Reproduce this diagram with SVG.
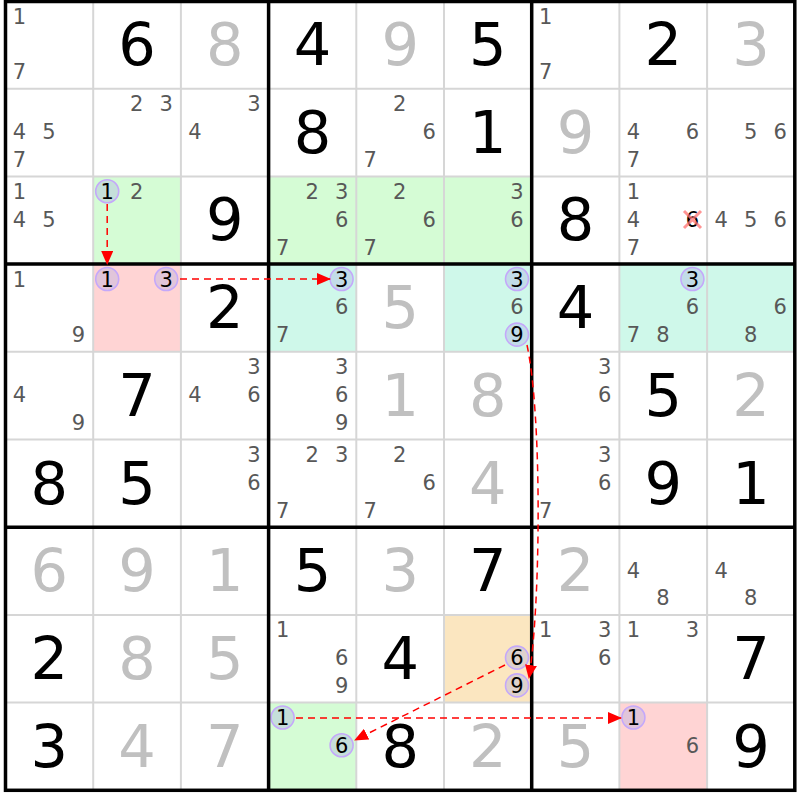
<svg xmlns="http://www.w3.org/2000/svg" width="800" height="800" viewBox="0 0 800 800">
<defs>
<style>
text{font-family:"DejaVu Sans","Noto Sans",sans-serif;text-anchor:middle}
.g{font-size:59px;fill:#000}
.s{font-size:59px;fill:#c0c0c0}
.c{font-size:21px;fill:#585858}
.k{font-size:21px;fill:#000}
.hc{fill:rgba(170,170,230,0.35);stroke:#c4a8fa;stroke-width:1.6}
.gr{fill:#d5fcd5}.rd{fill:#ffd4d4}.tl{fill:#cff8ea}.or{fill:#fbe6c0}
.thin{stroke:#d6d6d6;stroke-width:2}
.thick{stroke:#000;stroke-width:3.5}
.arr{fill:none;stroke:#f00;stroke-width:1.5;stroke-dasharray:7,5}
</style>
<marker id="ah" markerUnits="userSpaceOnUse" markerWidth="14" markerHeight="12" refX="13" refY="6" orient="auto"><path d="M0,0 L14,6 L0,12 z" fill="#f00"/></marker>
</defs>
<rect x="0" y="0" width="800" height="800" fill="#fff"/>
<g id="cells">
<g id="r1c1"><text class="c" x="19.5" y="23.5">1</text><text class="c" x="19.5" y="79.1">7</text></g>
<g id="r1c2"><text class="g" x="137.05" y="65">6</text></g>
<g id="r1c3"><text class="s" x="224.75" y="65">8</text></g>
<g id="r1c4"><text class="g" x="312.45" y="65">4</text></g>
<g id="r1c5"><text class="s" x="400.15" y="65">9</text></g>
<g id="r1c6"><text class="g" x="487.85" y="65">5</text></g>
<g id="r1c7"><text class="c" x="545.7" y="23.5">1</text><text class="c" x="545.7" y="79.1">7</text></g>
<g id="r1c8"><text class="g" x="663.25" y="65">2</text></g>
<g id="r1c9"><text class="s" x="750.95" y="65">3</text></g>

<g id="r2c1"><text class="c" x="19.5" y="139">4</text><text class="c" x="49" y="139">5</text><text class="c" x="19.5" y="166.8">7</text></g>
<g id="r2c2"><text class="c" x="136.7" y="111.2">2</text><text class="c" x="166.2" y="111.2">3</text></g>
<g id="r2c3"><text class="c" x="253.9" y="111.2">3</text><text class="c" x="194.9" y="139">4</text></g>
<g id="r2c4"><text class="g" x="312.45" y="152.7">8</text></g>
<g id="r2c5"><text class="c" x="399.8" y="111.2">2</text><text class="c" x="429.3" y="139">6</text><text class="c" x="370.3" y="166.8">7</text></g>
<g id="r2c6"><text class="g" x="487.85" y="152.7">1</text></g>
<g id="r2c7"><text class="s" x="575.55" y="152.7">9</text></g>
<g id="r2c8"><text class="c" x="633.4" y="139">4</text><text class="c" x="692.4" y="139">6</text><text class="c" x="633.4" y="166.8">7</text></g>
<g id="r2c9"><text class="c" x="750.6" y="139">5</text><text class="c" x="780.1" y="139">6</text></g>

<g id="r3c1"><text class="c" x="19.5" y="198.9">1</text><text class="c" x="19.5" y="226.7">4</text><text class="c" x="49" y="226.7">5</text></g>
<g id="r3c2"><rect class="gr" x="93.2" y="176.4" width="87.7" height="87.7"/><circle class="hc" cx="107.2" cy="191.3" r="11.5"/><text class="k" x="107.2" y="198.9">1</text><text class="c" x="136.7" y="198.9">2</text></g>
<g id="r3c3"><text class="g" x="224.75" y="240.4">9</text></g>
<g id="r3c4"><rect class="gr" x="268.6" y="176.4" width="87.7" height="87.7"/><text class="c" x="312.1" y="198.9">2</text><text class="c" x="341.6" y="198.9">3</text><text class="c" x="341.6" y="226.7">6</text><text class="c" x="282.6" y="254.5">7</text></g>
<g id="r3c5"><rect class="gr" x="356.3" y="176.4" width="87.7" height="87.7"/><text class="c" x="399.8" y="198.9">2</text><text class="c" x="429.3" y="226.7">6</text><text class="c" x="370.3" y="254.5">7</text></g>
<g id="r3c6"><rect class="gr" x="444" y="176.4" width="87.7" height="87.7"/><text class="c" x="517" y="198.9">3</text><text class="c" x="517" y="226.7">6</text></g>
<g id="r3c7"><text class="g" x="575.55" y="240.4">8</text></g>
<g id="r3c8"><text class="c" x="633.4" y="198.9">1</text><text class="c" x="633.4" y="226.7">4</text><text class="k" x="692.4" y="226.7">6</text><path d="M684,211 L701,228 M701,211 L684,228" stroke="#ff7070" stroke-opacity="0.75" stroke-width="3" fill="none"/><text class="c" x="633.4" y="254.5">7</text></g>
<g id="r3c9"><text class="c" x="721.1" y="226.7">4</text><text class="c" x="750.6" y="226.7">5</text><text class="c" x="780.1" y="226.7">6</text></g>

<g id="r4c1"><text class="c" x="19.5" y="286.6">1</text><text class="c" x="78.5" y="342.2">9</text></g>
<g id="r4c2"><rect class="rd" x="93.2" y="264.1" width="87.7" height="87.7"/><circle class="hc" cx="107.2" cy="279" r="11.5"/><text class="k" x="107.2" y="286.6">1</text><circle class="hc" cx="166.2" cy="279" r="11.5"/><text class="k" x="166.2" y="286.6">3</text></g>
<g id="r4c3"><text class="g" x="224.75" y="328.1">2</text></g>
<g id="r4c4"><rect class="tl" x="268.6" y="264.1" width="87.7" height="87.7"/><circle class="hc" cx="341.6" cy="279" r="11.5"/><text class="k" x="341.6" y="286.6">3</text><text class="c" x="341.6" y="314.4">6</text><text class="c" x="282.6" y="342.2">7</text></g>
<g id="r4c5"><text class="s" x="400.15" y="328.1">5</text></g>
<g id="r4c6"><rect class="tl" x="444" y="264.1" width="87.7" height="87.7"/><circle class="hc" cx="517" cy="279" r="11.5"/><text class="k" x="517" y="286.6">3</text><text class="c" x="517" y="314.4">6</text><circle class="hc" cx="517" cy="334.6" r="11.5"/><text class="k" x="517" y="342.2">9</text></g>
<g id="r4c7"><text class="g" x="575.55" y="328.1">4</text></g>
<g id="r4c8"><rect class="tl" x="619.4" y="264.1" width="87.7" height="87.7"/><circle class="hc" cx="692.4" cy="279" r="11.5"/><text class="k" x="692.4" y="286.6">3</text><text class="c" x="692.4" y="314.4">6</text><text class="c" x="633.4" y="342.2">7</text><text class="c" x="662.9" y="342.2">8</text></g>
<g id="r4c9"><rect class="tl" x="707.1" y="264.1" width="87.7" height="87.7"/><text class="c" x="780.1" y="314.4">6</text><text class="c" x="750.6" y="342.2">8</text></g>

<g id="r5c1"><text class="c" x="19.5" y="402.1">4</text><text class="c" x="78.5" y="429.9">9</text></g>
<g id="r5c2"><text class="g" x="137.05" y="415.8">7</text></g>
<g id="r5c3"><text class="c" x="253.9" y="374.3">3</text><text class="c" x="194.9" y="402.1">4</text><text class="c" x="253.9" y="402.1">6</text></g>
<g id="r5c4"><text class="c" x="341.6" y="374.3">3</text><text class="c" x="341.6" y="402.1">6</text><text class="c" x="341.6" y="429.9">9</text></g>
<g id="r5c5"><text class="s" x="400.15" y="415.8">1</text></g>
<g id="r5c6"><text class="s" x="487.85" y="415.8">8</text></g>
<g id="r5c7"><text class="c" x="604.7" y="374.3">3</text><text class="c" x="604.7" y="402.1">6</text></g>
<g id="r5c8"><text class="g" x="663.25" y="415.8">5</text></g>
<g id="r5c9"><text class="s" x="750.95" y="415.8">2</text></g>

<g id="r6c1"><text class="g" x="49.35" y="503.5">8</text></g>
<g id="r6c2"><text class="g" x="137.05" y="503.5">5</text></g>
<g id="r6c3"><text class="c" x="253.9" y="462">3</text><text class="c" x="253.9" y="489.8">6</text></g>
<g id="r6c4"><text class="c" x="312.1" y="462">2</text><text class="c" x="341.6" y="462">3</text><text class="c" x="282.6" y="517.6">7</text></g>
<g id="r6c5"><text class="c" x="399.8" y="462">2</text><text class="c" x="429.3" y="489.8">6</text><text class="c" x="370.3" y="517.6">7</text></g>
<g id="r6c6"><text class="s" x="487.85" y="503.5">4</text></g>
<g id="r6c7"><text class="c" x="604.7" y="462">3</text><text class="c" x="604.7" y="489.8">6</text><text class="c" x="545.7" y="517.6">7</text></g>
<g id="r6c8"><text class="g" x="663.25" y="503.5">9</text></g>
<g id="r6c9"><text class="g" x="750.95" y="503.5">1</text></g>

<g id="r7c1"><text class="s" x="49.35" y="591.2">6</text></g>
<g id="r7c2"><text class="s" x="137.05" y="591.2">9</text></g>
<g id="r7c3"><text class="s" x="224.75" y="591.2">1</text></g>
<g id="r7c4"><text class="g" x="312.45" y="591.2">5</text></g>
<g id="r7c5"><text class="s" x="400.15" y="591.2">3</text></g>
<g id="r7c6"><text class="g" x="487.85" y="591.2">7</text></g>
<g id="r7c7"><text class="s" x="575.55" y="591.2">2</text></g>
<g id="r7c8"><text class="c" x="633.4" y="577.5">4</text><text class="c" x="662.9" y="605.3">8</text></g>
<g id="r7c9"><text class="c" x="721.1" y="577.5">4</text><text class="c" x="750.6" y="605.3">8</text></g>

<g id="r8c1"><text class="g" x="49.35" y="678.9">2</text></g>
<g id="r8c2"><text class="s" x="137.05" y="678.9">8</text></g>
<g id="r8c3"><text class="s" x="224.75" y="678.9">5</text></g>
<g id="r8c4"><text class="c" x="282.6" y="637.4">1</text><text class="c" x="341.6" y="665.2">6</text><text class="c" x="341.6" y="693">9</text></g>
<g id="r8c5"><text class="g" x="400.15" y="678.9">4</text></g>
<g id="r8c6"><rect class="or" x="444" y="614.9" width="87.7" height="87.7"/><circle class="hc" cx="517" cy="657.6" r="11.5"/><text class="k" x="517" y="665.2">6</text><circle class="hc" cx="517" cy="685.4" r="11.5"/><text class="k" x="517" y="693">9</text></g>
<g id="r8c7"><text class="c" x="545.7" y="637.4">1</text><text class="c" x="604.7" y="637.4">3</text><text class="c" x="604.7" y="665.2">6</text></g>
<g id="r8c8"><text class="c" x="633.4" y="637.4">1</text><text class="c" x="692.4" y="637.4">3</text></g>
<g id="r8c9"><text class="g" x="750.95" y="678.9">7</text></g>

<g id="r9c1"><text class="g" x="49.35" y="766.6">3</text></g>
<g id="r9c2"><text class="s" x="137.05" y="766.6">4</text></g>
<g id="r9c3"><text class="s" x="224.75" y="766.6">7</text></g>
<g id="r9c4"><rect class="gr" x="268.6" y="702.6" width="87.7" height="87.7"/><circle class="hc" cx="282.6" cy="717.5" r="11.5"/><text class="k" x="282.6" y="725.1">1</text><circle class="hc" cx="341.6" cy="745.3" r="11.5"/><text class="k" x="341.6" y="752.9">6</text></g>
<g id="r9c5"><text class="g" x="400.15" y="766.6">8</text></g>
<g id="r9c6"><text class="s" x="487.85" y="766.6">2</text></g>
<g id="r9c7"><text class="s" x="575.55" y="766.6">5</text></g>
<g id="r9c8"><rect class="rd" x="619.4" y="702.6" width="87.7" height="87.7"/><circle class="hc" cx="633.4" cy="717.5" r="11.5"/><text class="k" x="633.4" y="725.1">1</text><text class="c" x="692.4" y="752.9">6</text></g>
<g id="r9c9"><text class="g" x="750.95" y="766.6">9</text></g>
</g>
<g id="grid">
<path class="thin" d="M93.2,1V790.3M180.9,1V790.3M356.3,1V790.3M444,1V790.3M619.4,1V790.3M707.1,1V790.3M5.5,88.7H794.8M5.5,176.4H794.8M5.5,351.8H794.8M5.5,439.5H794.8M5.5,614.9H794.8M5.5,702.6H794.8"/>
<path class="thick" d="M268.6,1V790.3M531.7,1V790.3M5.5,264.1H794.8M5.5,527.2H794.8"/>
<rect x="5.5" y="1.5" width="789.3" height="788.8" fill="none" stroke="#000" stroke-width="3.5"/>
</g>
<g id="connectors">
<path class="arr" d="M107.2,204 L107.2,264" marker-end="url(#ah)"/>
<path class="arr" d="M180,279 L330,279" marker-end="url(#ah)"/>
<path class="arr" d="M527,345 C542,415 541,600 529,678" marker-end="url(#ah)"/>
<path class="arr" d="M505,665 L355,740" marker-end="url(#ah)"/>
<path class="arr" d="M296,718 L621,718" marker-end="url(#ah)"/>
</g>
</svg>
